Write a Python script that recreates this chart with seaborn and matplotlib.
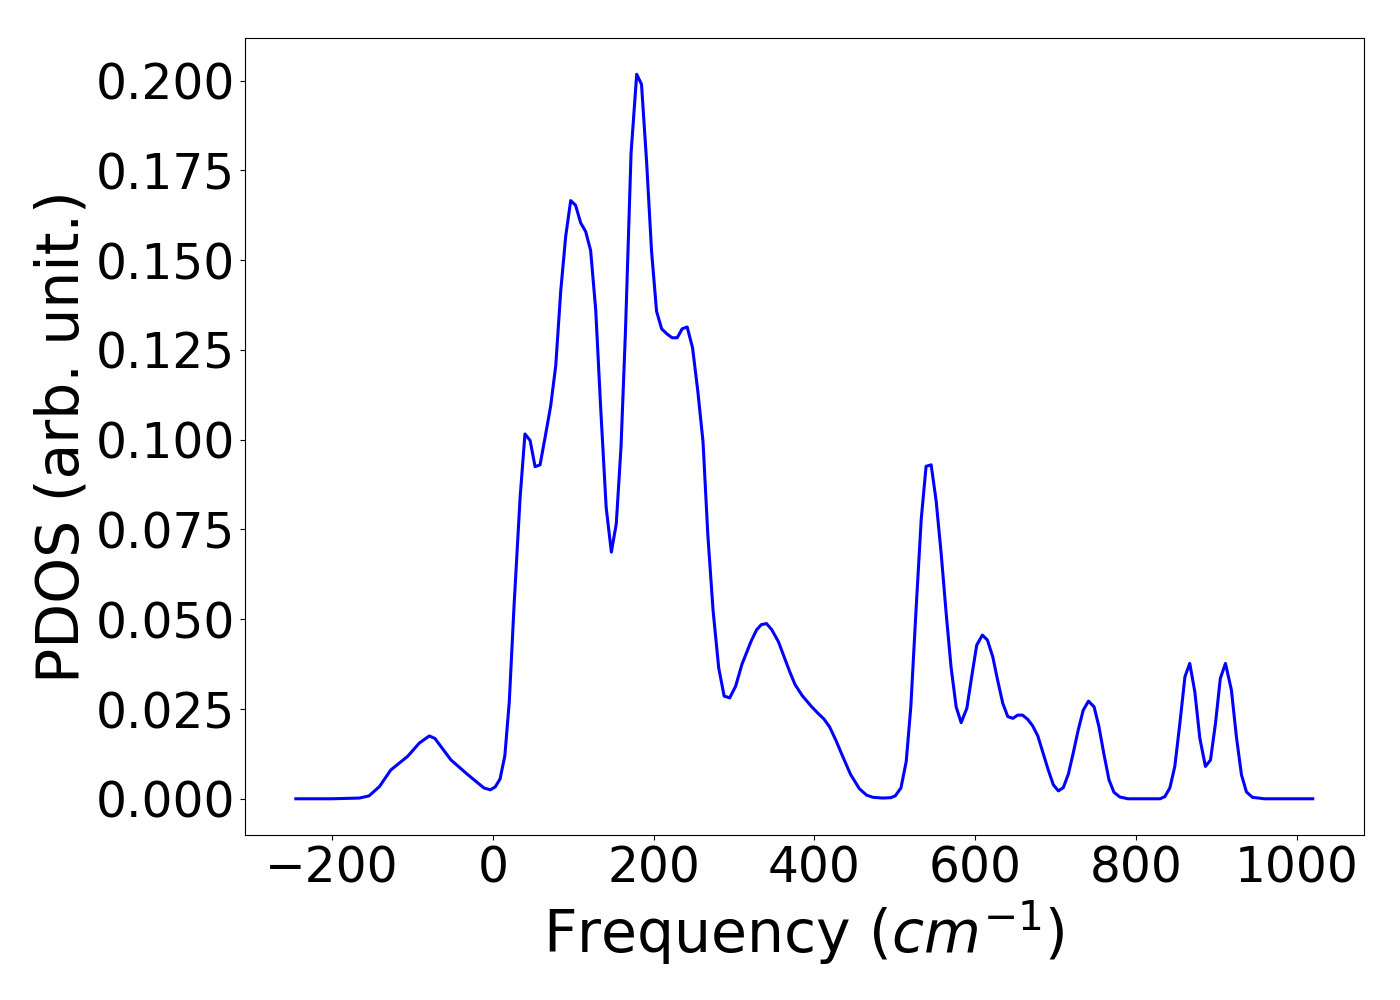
import matplotlib
matplotlib.use("Agg")
import matplotlib.pyplot as plt
import seaborn as sns
import pandas as pd

# phonon DOS
freq = [
    -245, -200, -166, -154, -141, -127, -106, -91.5, -79, -72, -52, -31, -11, -3,
    3, 9, 15, 20.5, 26.5, 34, 40, 46.4, 52.6, 58.8, 65.8, 72, 78.3, 84.5, 90.7,
    96.9, 103, 109.3, 115.5, 121.7, 128, 134.3, 141, 147.5, 153.6, 159.5, 165,
    172, 179, 185, 191.3, 197.5, 203.7, 210, 216.5, 223, 229.4, 235.6, 241.8,
    248.5, 255, 261.5, 267.5, 274, 281, 287.8, 294.7, 302, 310, 321, 328, 334,
    340.5, 347, 355.4, 362, 369, 376, 385, 396, 405, 412, 419, 427, 434.5, 445,
    456, 465, 473, 485, 495, 500.6, 507.7, 514.3, 520, 526.7, 533, 539, 545.3,
    551.5, 557.8, 564, 570, 576.4, 582.6, 589.7, 596, 602, 609, 615.3, 622, 628,
    634.4, 640.6, 647, 653, 659, 665.5, 671.6, 678, 684, 691, 697.3, 703.5,
    709.7, 716, 722, 728.3, 734.5, 741, 748, 754, 760, 766.5, 772.7, 780, 790,
    830, 836, 842.2, 848.4, 854.7, 861, 867, 873.3, 879.5, 886.5, 892.8, 899,
    905, 911.4, 918.8, 925, 931.3, 937.5, 945, 960, 1020,
]
pdos = [
    0.0, 0.0, 0.0002, 0.0008, 0.0034, 0.0080, 0.0118, 0.0155, 0.0175, 0.0168,
    0.0108, 0.0067, 0.0030, 0.0025,
    0.0033, 0.0055, 0.0120, 0.0270, 0.0540, 0.0840, 0.1016, 0.0998, 0.0925,
    0.0930, 0.1016, 0.1094, 0.1206, 0.1414, 0.1567,
    0.1666, 0.1653, 0.1604, 0.1580, 0.1527, 0.1363, 0.1085, 0.0812, 0.0687,
    0.0766, 0.0980, 0.1300,
    0.1798, 0.2018, 0.1990, 0.1775, 0.1525, 0.1358, 0.1309, 0.1295, 0.1284,
    0.1284, 0.1309, 0.1314,
    0.1256, 0.1136, 0.0995, 0.0735, 0.0525, 0.0365, 0.0286, 0.0281, 0.0313,
    0.0375, 0.0437, 0.0470, 0.0485,
    0.0488, 0.0471, 0.0437, 0.0398, 0.0356, 0.0318, 0.0287, 0.0258, 0.0237,
    0.0222, 0.0200, 0.0162, 0.0122, 0.0068,
    0.0028, 0.0010, 0.0004, 0.0002, 0.0003, 0.0008, 0.0030, 0.0104, 0.0256,
    0.0534, 0.0780, 0.0926, 0.0930,
    0.0830, 0.0682, 0.0516, 0.0368, 0.0256, 0.0212, 0.0252, 0.0344, 0.0428,
    0.0456, 0.0442, 0.0395, 0.0330,
    0.0266, 0.0229, 0.0224, 0.0233, 0.0233, 0.0221, 0.0203, 0.0175, 0.0131,
    0.0080, 0.0039, 0.0022,
    0.0031, 0.0069, 0.0127, 0.0192, 0.0247, 0.0272, 0.0256, 0.0201, 0.0127,
    0.0053, 0.0018, 0.0005, 0.0,
    0.0, 0.0006, 0.0030, 0.0090, 0.0210, 0.0340, 0.0377, 0.0298, 0.0169,
    0.0090, 0.0108, 0.0210,
    0.0335, 0.0377, 0.0303, 0.0173, 0.0067, 0.0019, 0.0004, 0.0, 0.0,
]

df = pd.DataFrame({"freq": freq, "pdos": pdos})

fig = plt.figure(figsize=(14, 10), dpi=100)
ax = fig.add_axes([0.175, 0.165, 0.799, 0.797])
sns.lineplot(data=df, x="freq", y="pdos", color="blue", linewidth=2.2, ax=ax, sort=False)

ax.set_xlabel(r"Frequency ($cm^{-1}$)", fontsize=42)
ax.set_ylabel("PDOS (arb. unit.)", fontsize=42)
ax.tick_params(labelsize=35)
ax.set_yticks([0.0, 0.025, 0.05, 0.075, 0.1, 0.125, 0.15, 0.175, 0.2])
ax.set_yticklabels([f"{v:.3f}" for v in ax.get_yticks()])
ax.margins(x=0.05, y=0.05)

fig.savefig("out.png", dpi=100)
plt.close(fig)
